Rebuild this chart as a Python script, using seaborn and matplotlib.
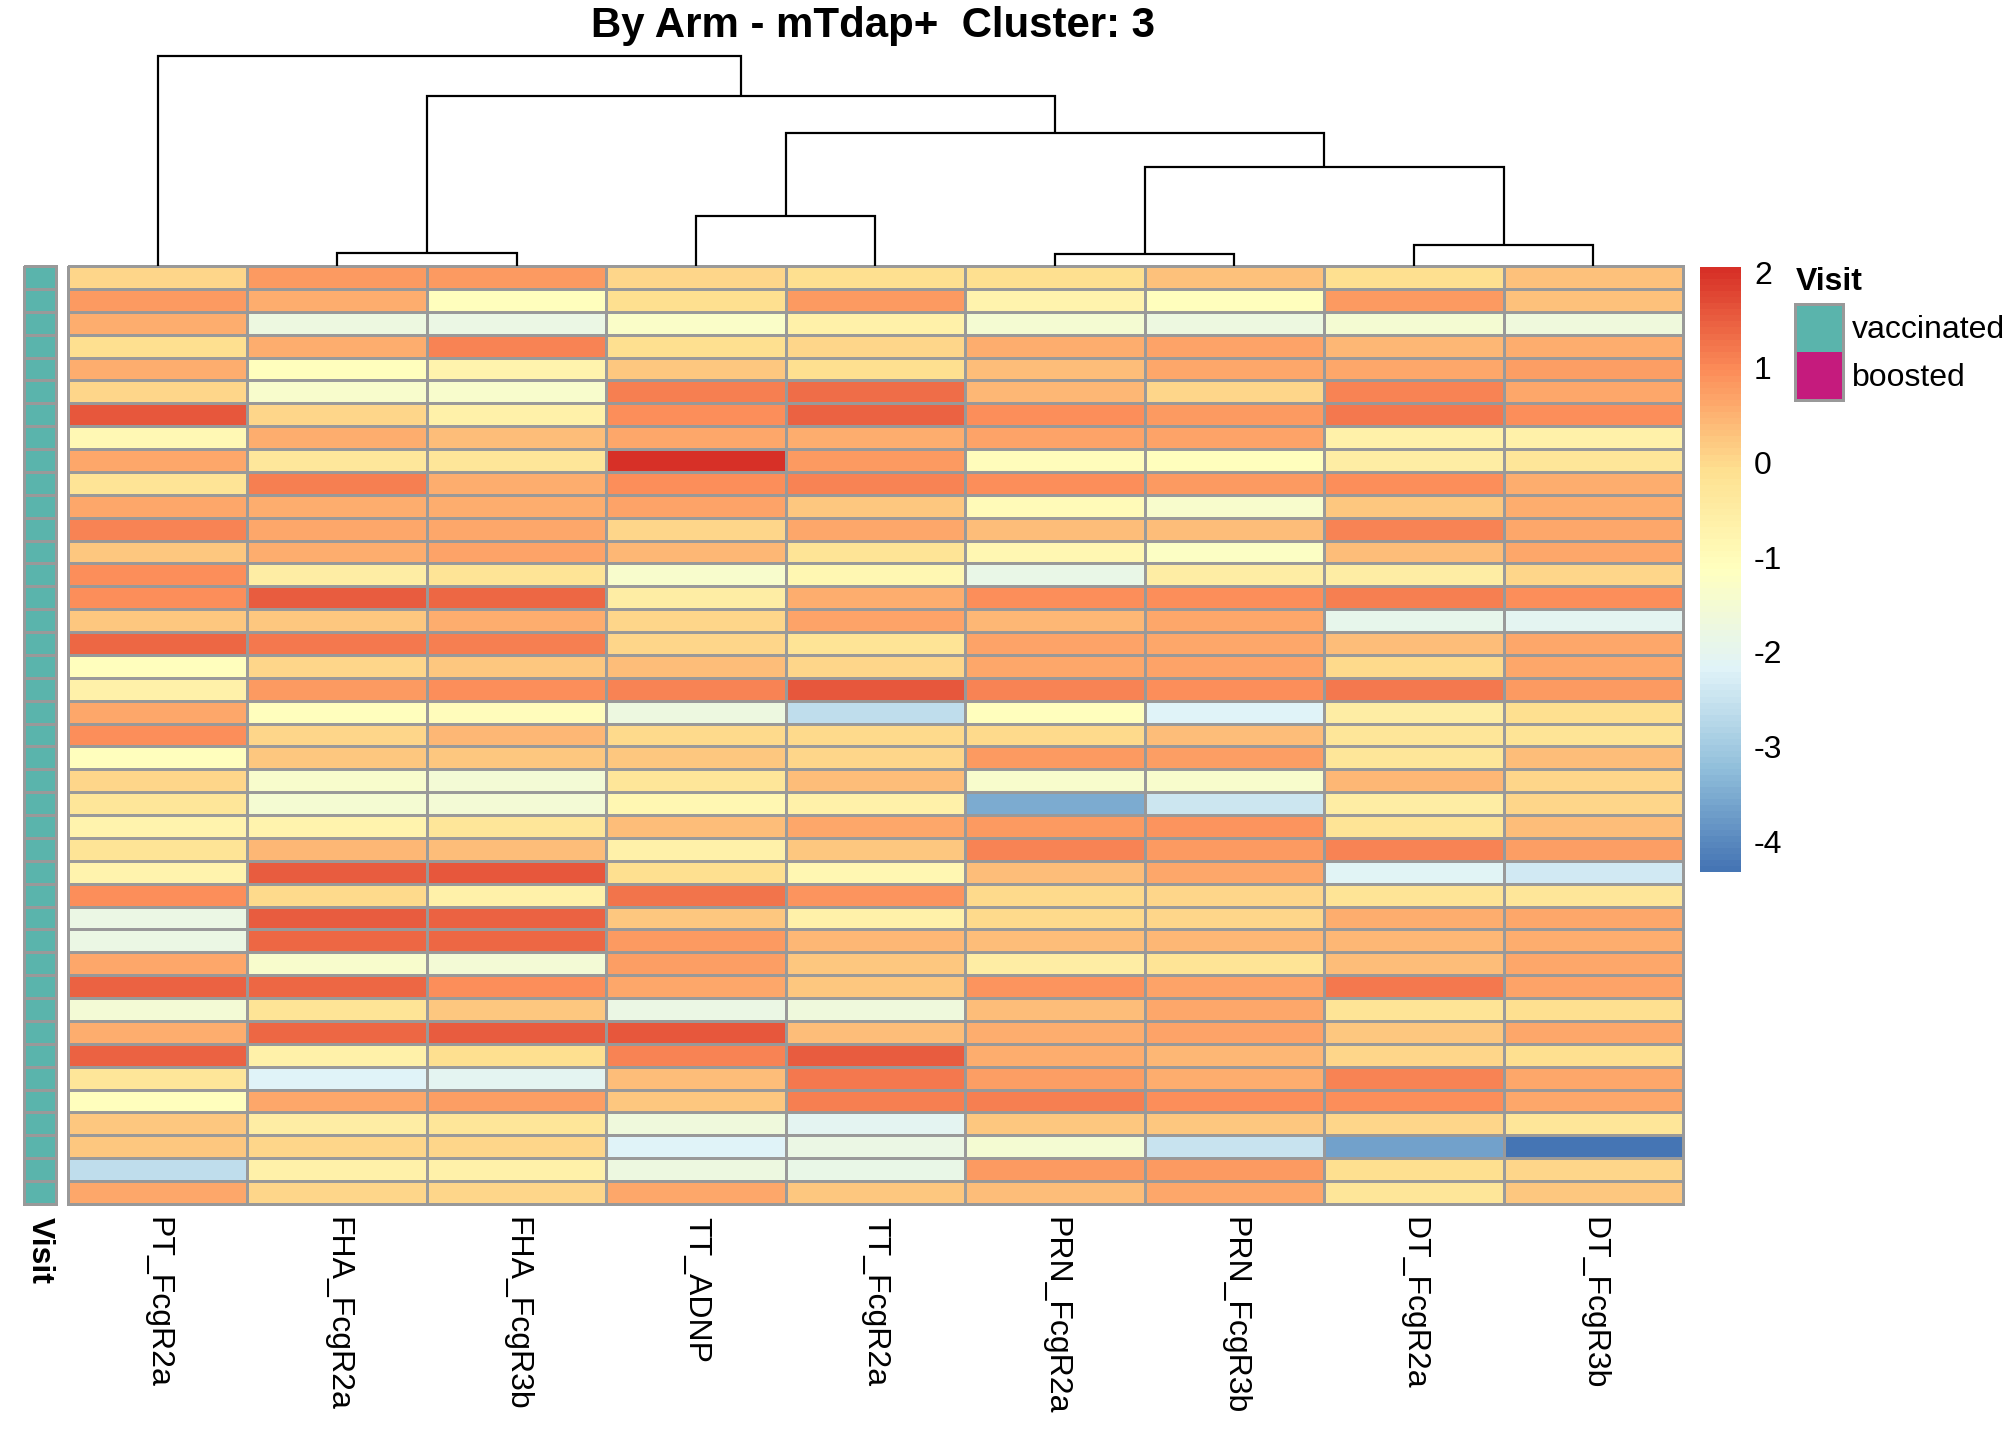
import numpy as np
import pandas as pd
import matplotlib
matplotlib.use("Agg")
import matplotlib.pyplot as plt
import seaborn as sns
from matplotlib.colors import LinearSegmentedColormap, ListedColormap
from matplotlib.patches import Rectangle

sns.set_style("white")
plt.rcParams["font.family"] = ["Liberation Sans", "DejaVu Sans"]
plt.rcParams["text.color"] = "black"
plt.rcParams["xtick.color"] = "black"
plt.rcParams["ytick.color"] = "black"
plt.rcParams["xtick.labelcolor"] = "black"
plt.rcParams["ytick.labelcolor"] = "black"

# ---------------- data ----------------
title = "By Arm - mTdap+  Cluster: 3"
columns = ["PT_FcgR2a", "FHA_FcgR2a", "FHA_FcgR3b", "TT_ADNP", "TT_FcgR2a",
           "PRN_FcgR2a", "PRN_FcgR3b", "DT_FcgR2a", "DT_FcgR3b"]

values = [
    [0.06, 0.82, 0.82, 0.06, -0.07, -0.07, 0.30, -0.07, 0.30],
    [0.82, 0.58, -1.08, -0.07, 0.82, -0.73, -1.08, 0.82, 0.30],
    [0.58, -1.71, -1.78, -1.30, -0.62, -1.51, -1.71, -1.51, -1.68],
    [-0.07, 0.58, 1.04, -0.07, 0.06, 0.58, 0.72, 0.44, 0.58],
    [0.54, -1.08, -0.73, 0.21, -0.07, 0.38, 0.63, 0.63, 0.77],
    [0.06, -1.37, -1.37, 1.12, 1.32, 0.44, 0.06, 1.04, 0.65],
    [1.58, 0.06, -0.62, 0.95, 1.44, 0.95, 0.82, 1.21, 0.95],
    [-0.93, 0.54, 0.38, 0.60, 0.54, 0.72, 0.72, -0.62, -0.62],
    [0.60, -0.33, -0.25, 2.06, 0.82, -1.02, -1.08, -0.50, -0.25],
    [-0.21, 1.12, 0.54, 0.92, 1.10, 0.95, 0.82, 0.92, 0.54],
    [0.65, 0.54, 0.54, 0.72, 0.21, -1.00, -1.37, 0.21, 0.54],
    [1.04, 0.65, 0.65, 0.06, 0.65, 0.38, 0.38, 1.04, 0.65],
    [0.26, 0.54, 0.72, 0.44, -0.21, -0.83, -1.22, 0.38, 0.65],
    [0.92, -0.55, -0.21, -1.37, -0.83, -1.85, -0.55, -0.55, 0.06],
    [0.92, 1.50, 1.39, -0.55, 0.54, 0.92, 0.92, 1.12, 0.92],
    [0.26, 0.26, 0.54, 0.06, 0.72, 0.44, 0.65, -1.92, -2.03],
    [1.39, 1.21, 1.12, 0.06, -0.21, 0.72, 0.65, 0.38, 0.65],
    [-1.08, 0.06, 0.21, 0.34, 0.06, 0.60, 0.72, -0.03, 0.60],
    [-0.65, 0.82, 0.92, 1.04, 1.58, 1.04, 0.92, 1.21, 0.82],
    [0.65, -1.08, -1.02, -1.72, -2.60, -1.08, -2.17, -0.55, -0.07],
    [0.92, 0.06, 0.44, -0.03, -0.03, 0.00, 0.34, -0.28, -0.21],
    [-1.08, 0.21, 0.21, 0.21, 0.06, 0.82, 0.77, -0.28, 0.38],
    [0.06, -1.37, -1.57, -0.28, 0.38, -1.37, -1.37, 0.44, 0.06],
    [-0.28, -1.51, -1.57, -0.87, -0.62, -3.50, -2.46, -0.55, 0.06],
    [-0.73, -0.73, -0.28, 0.34, 0.60, 0.82, 0.87, -0.21, 0.38],
    [-0.21, 0.44, 0.34, -0.62, 0.26, 1.04, 0.82, 1.04, 0.77],
    [-0.73, 1.54, 1.58, -0.07, -0.83, 0.34, 0.60, -2.10, -2.40],
    [0.92, -0.03, -0.62, 1.25, 0.87, 0.00, 0.06, -0.21, -0.28],
    [-1.78, 1.50, 1.44, 0.21, -0.62, 0.00, 0.06, 0.54, 0.65],
    [-1.78, 1.39, 1.39, 0.82, 0.44, 0.38, 0.44, 0.44, 0.54],
    [0.65, -1.37, -1.57, 0.77, 0.21, -0.55, -0.21, 0.38, 0.65],
    [1.44, 1.39, 0.92, 0.60, 0.21, 0.87, 0.72, 1.21, 0.72],
    [-1.57, -0.21, 0.26, -1.78, -1.68, 0.34, 0.60, -0.21, -0.07],
    [0.54, 1.39, 1.54, 1.56, 0.34, 0.54, 0.72, 0.26, 0.65],
    [1.44, -0.62, -0.07, 1.04, 1.54, 0.54, 0.44, 0.06, -0.07],
    [-0.28, -2.17, -2.08, 0.34, 1.21, 0.77, 0.54, 1.04, 0.60],
    [-1.08, 0.65, 0.77, 0.21, 1.12, 1.15, 0.92, 0.92, 0.65],
    [0.26, -0.55, -0.28, -1.68, -2.08, 0.21, 0.21, 0.06, -0.28],
    [0.21, 0.06, 0.06, -2.17, -1.78, -1.50, -2.52, -3.65, -4.32],
    [-2.60, -0.62, -0.62, -1.72, -1.85, 0.82, 0.82, -0.07, 0.06],
    [0.60, 0.06, 0.06, 0.60, 0.21, 0.38, 0.65, -0.28, 0.26],
]

visit_levels = ["vaccinated", "boosted"]
visit_colors = ["#5AB4AC", "#C51B7D"]
visit = ["vaccinated"] * len(values)

# column dendrogram: (left node, right node, merge height); leaves 0..8, merges 9..
linkage = [
    (1, 2, 13),
    (5, 6, 12),
    (7, 8, 21),
    (3, 4, 50),
    (10, 11, 99),
    (12, 13, 133),
    (9, 14, 170),
    (0, 15, 210),
]

cbar_ticks = [-4, -3, -2, -1, 0, 1, 2]

# ---------------- figure ----------------
W, H = 2016, 1440
fig = plt.figure(figsize=(14, 10), dpi=144)

def box(x0, y0, x1, y1):
    return [x0 / W, 1 - y1 / H, (x1 - x0) / W, (y1 - y0) / H]

hm_ax = fig.add_axes(box(68, 266, 1683, 1204))
ann_ax = fig.add_axes(box(24, 266, 56, 1204))
den_ax = fig.add_axes(box(68, 56, 1683, 266))
cax = fig.add_axes(box(1700, 267, 1741, 872))

grid_color = "#999999"
lw = 1.3

pal7 = ["#4575B4", "#91BFDB", "#E0F3F8", "#FFFFBF", "#FEE090", "#FC8D59", "#D73027"]
cmap = ListedColormap(LinearSegmentedColormap.from_list("rdylbu_r", pal7)(np.linspace(0, 1, 100)))

df = pd.DataFrame(values, columns=columns)
sns.heatmap(df, ax=hm_ax, cmap=cmap, vmin=df.values.min(), vmax=df.values.max(),
            linewidths=lw, linecolor=grid_color, cbar_ax=cax,
            cbar_kws={"ticks": cbar_ticks}, xticklabels=columns, yticklabels=False)
hm_ax.collections[0].set_clip_on(False)
hm_ax.set_xticklabels(columns, rotation=270, ha="center", va="top", fontsize=16, color="black")
hm_ax.tick_params(axis="x", length=0, pad=6.5)
hm_ax.set_xlabel("")
hm_ax.set_ylabel("")

# colorbar
cbar = hm_ax.collections[0].colorbar
cbar.outline.set_visible(False)
cbar.ax.tick_params(length=0, pad=6.5, labelsize=16, labelcolor="black")
cbar.ax.set_yticklabels([str(t) for t in cbar_ticks])

# annotation column
ann_codes = pd.DataFrame({"Visit": [visit_levels.index(v) for v in visit]})
sns.heatmap(ann_codes, ax=ann_ax, cmap=ListedColormap(visit_colors), vmin=-0.5, vmax=1.5,
            linewidths=lw, linecolor=grid_color, cbar=False,
            xticklabels=["Visit"], yticklabels=False)
ann_ax.collections[0].set_clip_on(False)
ann_ax.set_xticklabels(["Visit"], rotation=270, ha="center", va="top",
                       fontsize=16, fontweight="bold", color="black")
ann_ax.tick_params(axis="x", length=0, pad=6.5)
ann_ax.set_ylabel("")

# dendrogram
n = len(columns)
node_x = {i: i + 0.5 for i in range(n)}
node_h = {i: 0.0 for i in range(n)}
for k, (a, b, h) in enumerate(linkage):
    xa, xb = node_x[a], node_x[b]
    den_ax.plot([xa, xa, xb, xb], [node_h[a], h, h, node_h[b]], color="black",
                lw=1.1, clip_on=False, solid_joinstyle="miter", solid_capstyle="butt")
    node_x[n + k] = (xa + xb) / 2
    node_h[n + k] = h
den_ax.set_xlim(0, n)
den_ax.set_ylim(0, max(h for _, _, h in linkage))
den_ax.axis("off")

# title
fig.text(873 / W, 1 - 37 / H, title, ha="center", va="baseline",
         fontsize=21, fontweight="bold", color="black")

# legend for Visit
fig.text(1796 / W, 1 - 282 / H, "Visit", ha="left", va="center",
         fontsize=16, fontweight="bold", color="black")
bx0, by0, bw, bh = 1795, 304, 48, 48
for i, (lvl, col) in enumerate(zip(visit_levels, visit_colors)):
    y0 = by0 + i * bh
    fig.add_artist(Rectangle((bx0 / W, 1 - (y0 + bh) / H), bw / W, bh / H,
                             transform=fig.transFigure, facecolor=col, edgecolor="none"))
    fig.text(1852 / W, 1 - (y0 + bh / 2 + 2) / H, lvl, ha="left", va="center",
             fontsize=16, color="black")
fig.add_artist(Rectangle((bx0 / W, 1 - (by0 + 2 * bh) / H), bw / W, 2 * bh / H,
                         transform=fig.transFigure, facecolor="none",
                         edgecolor=grid_color, lw=1.5))

fig.savefig("out.png", dpi=144, facecolor="white")
